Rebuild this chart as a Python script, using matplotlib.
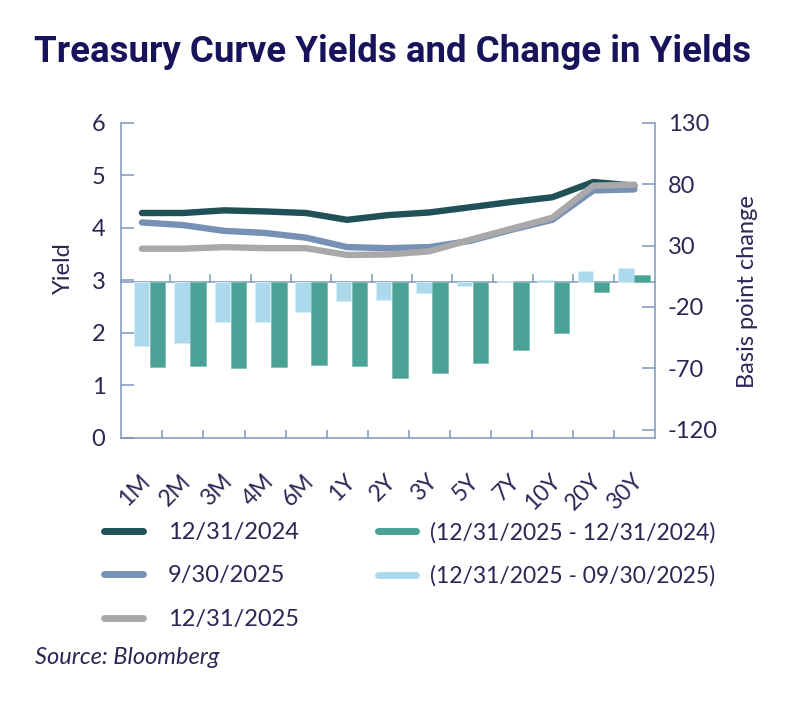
import matplotlib
matplotlib.use("Agg")
import matplotlib.pyplot as plt
import numpy as np
from matplotlib.lines import Line2D
from matplotlib.transforms import ScaledTranslation

# ---------------- data ----------------
categories = ['1M', '2M', '3M', '4M', '6M', '1Y', '2Y', '3Y', '5Y', '7Y', '10Y', '20Y', '30Y']
yield_20241231 = [4.28, 4.28, 4.33, 4.31, 4.28, 4.15, 4.24, 4.29, 4.39, 4.49, 4.58, 4.87, 4.80]
yield_20250930 = [4.10, 4.05, 3.94, 3.90, 3.81, 3.63, 3.61, 3.63, 3.75, 3.96, 4.15, 4.71, 4.73]
yield_20251231 = [3.60, 3.60, 3.63, 3.61, 3.61, 3.48, 3.49, 3.55, 3.77, 3.98, 4.19, 4.80, 4.82]
chg_vs_20241231 = [-69, -68, -70, -69, -67, -68, -78, -74, -66, -55, -41, -8, 6]
chg_vs_20250930 = [-52, -49, -32, -32, -24, -15, -14, -9, -3, 1, 2, 9, 12]
left_ticks = [0, 1, 2, 3, 4, 5, 6]
right_ticks = [130, 80, 30, -20, -70, -120]

# ---------------- style ----------------
C_DARK = '#1f5157'
C_BLUE = '#7690b6'
C_GRAY = '#a9a9ab'
C_TEAL = '#4aa196'
C_LBLUE = '#acd9ec'
C_SPINE = '#7f97ba'
C_TEXT = '#2a2656'
C_TITLE = '#17145c'
FONT = 'Lato'
FW = 'normal'
FS = 17

W, H = 800, 709
fig = plt.figure(figsize=(W / 100, H / 100), dpi=100)

x0, x1 = 121.4, 654.9
yt, yb = 122.7, 437.7
rect = [x0 / W, 1 - yb / H, (x1 - x0) / W, (yb - yt) / H]

# bar axes (right axis)
axb = fig.add_axes(rect)
axb.set_xlim(-0.70, 12.52)
axb.set_ylim(-126.5, 130)
xb = np.arange(len(categories))
axb.bar(xb - 0.2, chg_vs_20250930, width=0.385, color=C_LBLUE, edgecolor='#d6eef7', linewidth=0.6, zorder=3)
axb.bar(xb + 0.2, chg_vs_20241231, width=0.385, color=C_TEAL, edgecolor='#7fbdb5', linewidth=0.6, zorder=3)
for s in ['left', 'top']:
    axb.spines[s].set_visible(False)
axb.spines['right'].set_color(C_SPINE)
axb.spines['right'].set_linewidth(1.1)
axb.spines['bottom'].set_position(('data', 0))
axb.spines['bottom'].set_color(C_SPINE)
axb.spines['bottom'].set_linewidth(1.1)
axb.spines['bottom'].set_zorder(2)
axb.yaxis.tick_right()
axb.set_yticks(right_ticks)
axb.set_yticklabels([str(v) for v in right_ticks])
axb.tick_params(axis='y', direction='in', length=9.4, width=1.1, color=C_SPINE,
                pad=9.4, labelsize=FS, labelcolor=C_TEXT)
axb.set_xticks(np.arange(0.5, 12, 1))
axb.tick_params(axis='x', direction='in', length=5.5, width=1.1, color=C_SPINE, labelbottom=False)
for lab in axb.get_yticklabels():
    lab.set_fontfamily(FONT)
    lab.set_fontweight(FW)
axb.patch.set_alpha(0)

# line axes (left axis)
ax = fig.add_axes(rect, zorder=3)
ax.patch.set_alpha(0)
xl = np.arange(len(categories))
ax.plot(xl, yield_20241231, color=C_DARK, lw=4.6, solid_capstyle='round', solid_joinstyle='round')
ax.plot(xl, yield_20250930, color=C_BLUE, lw=4.6, solid_capstyle='round', solid_joinstyle='round')
ax.plot(xl, yield_20251231, color=C_GRAY, lw=4.6, solid_capstyle='round', solid_joinstyle='round')
ax.set_xlim(-0.5, 12.5)
ax.set_ylim(0, 6)
for s in ['right', 'top']:
    ax.spines[s].set_visible(False)
for s in ['left', 'bottom']:
    ax.spines[s].set_color(C_SPINE)
    ax.spines[s].set_linewidth(1.1)
ax.set_yticks(left_ticks)
ax.tick_params(axis='y', direction='in', length=9.4, width=1.1, color=C_SPINE,
               pad=11.5, labelsize=FS, labelcolor=C_TEXT)
ax.set_xticks(xl)
ax.set_xticklabels(categories)
ax.set_xticks(np.arange(0.5, 12, 1), minor=True)
ax.tick_params(axis='x', which='major', length=0, pad=29, labelsize=16.5, labelcolor=C_TEXT)
ax.tick_params(axis='x', which='minor', direction='in', length=5.8, width=1.1, color=C_SPINE)
for lab in ax.get_yticklabels():
    lab.set_fontfamily(FONT)
    lab.set_fontweight(FW)
off = ScaledTranslation(5 / 100, 0, fig.dpi_scale_trans)
for lab in ax.get_xticklabels():
    lab.set_fontfamily(FONT)
    lab.set_fontweight(FW)
    lab.set_rotation(45)
    lab.set_ha('right')
    lab.set_va('center')
    lab.set_rotation_mode('anchor')
    lab.set_transform(lab.get_transform() + off)

# axis titles
fig.text(63.5 / W, 1 - 268 / H, 'Yield', rotation=90, ha='center', va='center',
         fontsize=FS, color=C_TEXT, family=FONT, fontweight=FW)
fig.text(747.5 / W, 1 - 291.5 / H, 'Basis point change', rotation=90, ha='center', va='center',
         fontsize=FS, color=C_TEXT, family=FONT, fontweight=FW)

# title, fitted to width
title = fig.text(34.5 / W, 1 - 52 / H, 'Treasury Curve Yields and Change in Yields',
                 ha='left', va='center', fontsize=26, fontweight='bold', family='Roboto', color=C_TITLE)
fig.canvas.draw()
r = fig.canvas.get_renderer()
w = title.get_window_extent(r).width
title.set_fontsize(26 * 718 / w)

# legends
line_labels = ['12/31/2024', '9/30/2025', '12/31/2025']
bar_labels = ['(12/31/2025 - 12/31/2024)', '(12/31/2025 - 09/30/2025)']
h_lines = [Line2D([], [], color=c, lw=5, solid_capstyle='round') for c in (C_DARK, C_BLUE, C_GRAY)]
h_bars = [Line2D([], [], color=c, lw=5, solid_capstyle='round') for c in (C_TEAL, C_LBLUE)]
leg1 = fig.legend(h_lines, line_labels, loc='upper left', bbox_to_anchor=(104 / W, 1 - 522 / H),
                  frameon=False, borderpad=0, borderaxespad=0, handlelength=1.65, handletextpad=1.05,
                  labelspacing=0.95, prop={'family': FONT, 'weight': FW, 'size': FS})
leg2 = fig.legend(h_bars, bar_labels, loc='upper left', bbox_to_anchor=(378 / W, 1 - 522 / H),
                  frameon=False, borderpad=0, borderaxespad=0, handlelength=1.65, handletextpad=0.6,
                  labelspacing=0.95, prop={'family': FONT, 'weight': FW, 'size': 16.5})
for lg in (leg1, leg2):
    for t in lg.get_texts():
        t.set_color(C_TEXT)

fig.text(35 / W, 1 - 658 / H, 'Source: Bloomberg', ha='left', va='center', fontsize=17,
         style='italic', family=FONT, fontweight=FW, color=C_TEXT)

fig.savefig('out.png', dpi=100)
